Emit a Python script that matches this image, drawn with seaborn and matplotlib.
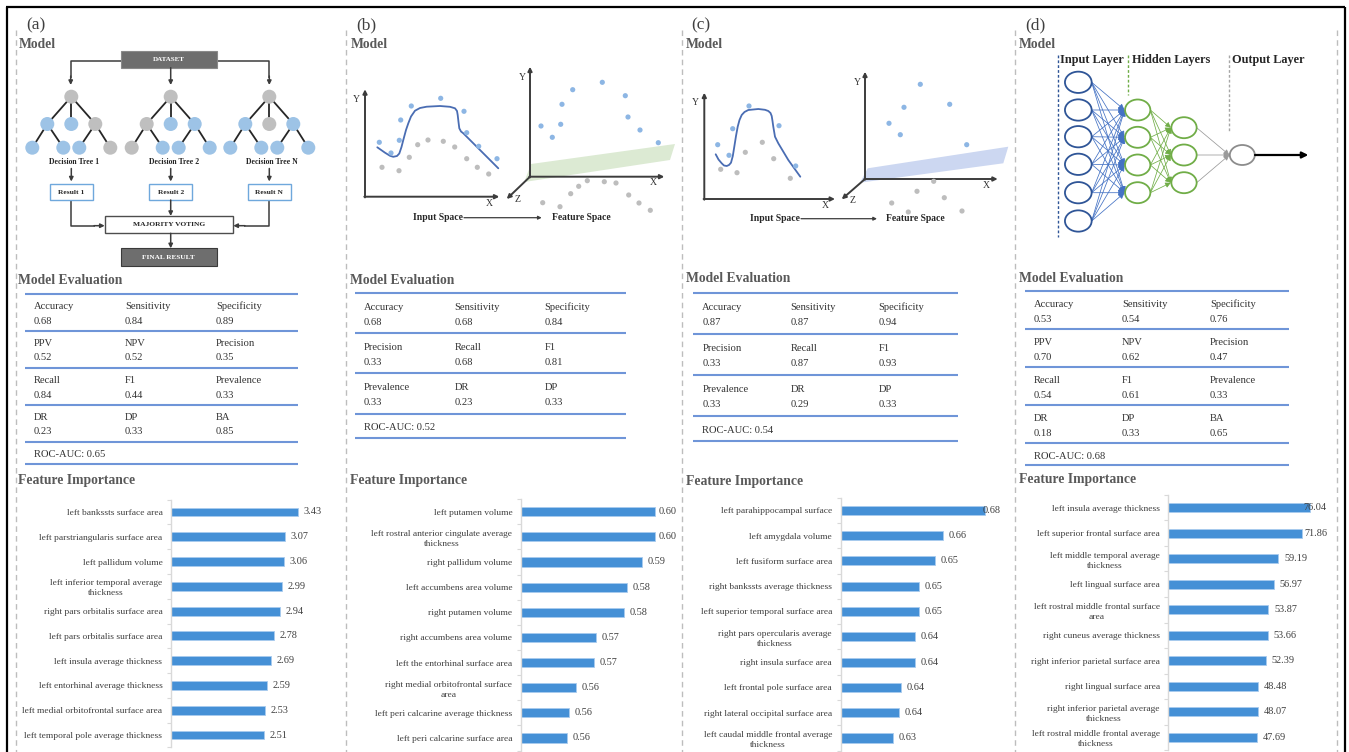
import numpy as np
import pandas as pd
import seaborn as sns
import matplotlib.pyplot as plt
from matplotlib.patches import Circle, Ellipse, Rectangle, Polygon

# ---------------- data ----------------
panel_letters = ["(a)", "(b)", "(c)", "(d)"]

full_metric_names = ["Accuracy", "Sensitivity", "Specificity",
                     "PPV", "NPV", "Precision",
                     "Recall", "F1", "Prevalence",
                     "DR", "DP", "BA"]
short_metric_names = ["Accuracy", "Sensitivity", "Specificity",
                      "Precision", "Recall", "F1",
                      "Prevalence", "DR", "DP"]

rf_metrics = [0.68, 0.84, 0.89, 0.52, 0.52, 0.35, 0.84, 0.44, 0.33, 0.23, 0.33, 0.85]
rf_roc_auc = 0.65
svm_b_metrics = [0.68, 0.68, 0.84, 0.33, 0.68, 0.81, 0.33, 0.23, 0.33]
svm_b_roc_auc = 0.52
svm_c_metrics = [0.87, 0.87, 0.94, 0.33, 0.87, 0.93, 0.33, 0.29, 0.33]
svm_c_roc_auc = 0.54
nn_metrics = [0.53, 0.54, 0.76, 0.70, 0.62, 0.47, 0.54, 0.61, 0.33, 0.18, 0.33, 0.65]
nn_roc_auc = 0.68

rf_features = ["left bankssts surface area",
               "left parstriangularis surface area",
               "left pallidum volume",
               "left inferior temporal average\nthickness",
               "right pars orbitalis surface area",
               "left pars orbitalis surface area",
               "left insula average thickness",
               "left entorhinal average thickness",
               "left medial orbitofrontal surface area",
               "left temporal pole average thickness"]
rf_importance = [3.43, 3.07, 3.06, 2.99, 2.94, 2.78, 2.69, 2.59, 2.53, 2.51]

svm_b_features = ["left putamen volume",
                  "left rostral anterior cingulate average\nthickness",
                  "right pallidum volume",
                  "left accumbens area volume",
                  "right putamen volume",
                  "right accumbens area volume",
                  "left the entorhinal surface area",
                  "right medial orbitofrontal surface\narea",
                  "left peri calcarine average thickness",
                  "left peri calcarine surface area"]
svm_b_importance = [0.596, 0.596, 0.590, 0.583, 0.582, 0.569, 0.568, 0.560, 0.557, 0.556]

svm_c_features = ["left parahippocampal surface",
                  "left amygdala volume",
                  "left fusiform surface area",
                  "right bankssts average thickness",
                  "left superior temporal surface area",
                  "right pars opercularis average\nthickness",
                  "right insula surface area",
                  "left frontal pole surface area",
                  "right lateral occipital surface area",
                  "left caudal middle frontal average\nthickness"]
svm_c_importance = [0.679, 0.658, 0.654, 0.646, 0.646, 0.644, 0.644, 0.637, 0.636, 0.633]

nn_features = ["left insula average thickness",
               "left superior frontal surface area",
               "left middle temporal average\nthickness",
               "left lingual surface area",
               "left rostral middle frontal surface\narea",
               "right cuneus average thickness",
               "right inferior parietal surface area",
               "right lingual surface area",
               "right inferior parietal average\nthickness",
               "left rostral middle frontal average\nthickness"]
nn_importance = [76.04, 71.86, 59.19, 56.97, 53.87, 53.66, 52.39, 48.48, 48.07, 47.69]

# ---------------- schematic geometry (pixel space) ----------------
# random forest: per-tree node colours (root, level 2, level 3)
tree_roots_x = [71.3, 170.7, 269.3]
tree_titles = ["Decision Tree 1", "Decision Tree 2", "Decision Tree N"]
result_titles = ["Result 1", "Result 2", "Result N"]
tree_colours = [("g", "bbg", "bbbg"), ("g", "gbb", "gbbb"), ("g", "bgb", "bbbb")]

# kernel illustrations: sample points and boundary curves
b_in_pos = [(379.3, 142.3), (391, 153), (399.3, 140.3), (400.7, 120), (411.3, 106),
            (440.7, 98.3), (464, 111.3), (466.7, 132.7), (478.7, 146.3), (497, 158.7)]
b_in_neg = [(382, 167.3), (399, 170.7), (409.3, 157.3), (417.7, 144.7), (428, 140),
            (443.3, 141.3), (454.7, 147), (466.7, 158.7), (477.3, 167.3), (488.7, 174)]
b_curve = [(377.3, 147.3), (385, 152.7), (390, 155.8), (393.3, 156.8), (397, 156), (399.3, 153.5),
           (401.5, 147), (403.3, 140), (406, 130), (408.3, 123.3), (411, 116.5), (415, 110.7),
           (420, 108), (426.7, 106.7), (440, 106), (450, 106.8), (455, 108.3), (457, 111),
           (457.7, 115), (458.5, 122), (459.3, 128.3), (461, 131.5), (463.3, 133.3), (473.3, 143.3),
           (486.7, 156.7), (498.3, 168.3)]
b_fs_pos = [(541, 126), (552.3, 137.3), (560.7, 124.3), (562, 104.3), (572.7, 89.7),
            (602.3, 82.3), (625.3, 95.7), (628, 117), (640, 130), (658.3, 142.7)]
b_fs_neg = [(542.7, 202.7), (560, 206.7), (570.7, 193.7), (578.7, 186.3), (587.3, 180.7),
            (604.3, 181.7), (616, 183), (628.7, 195), (639, 203), (650.3, 210.3)]
b_plane = [(531, 164), (675, 144), (670, 160), (524.3, 182)]

c_in_pos = [(717.7, 144.7), (729, 155.3), (732.7, 128.7), (749, 106), (779, 125.7), (795.7, 166)]
c_in_neg = [(720.7, 169.3), (737, 172.7), (745.3, 152.3), (762.3, 142.3), (773.7, 158.7), (790.3, 178.3)]
c_curve = [(715.7, 154.3), (718.5, 159.5), (721.7, 163.3), (724, 165.5), (726.7, 166), (729, 165),
           (731, 162.7), (732.8, 156), (734.3, 146.7), (736, 136), (737.7, 126.7), (739.5, 120),
           (741.7, 115), (744.5, 112), (748.3, 110), (758.3, 109), (765, 109.8), (768.3, 111),
           (770.5, 113), (771.7, 116), (772.5, 121), (773.3, 126.7), (775, 136.7), (778.3, 143.3),
           (788.3, 160), (800.3, 176.7)]
c_fs_pos = [(920.3, 84.3), (889, 123.3), (904, 107.3), (900.3, 134.7), (949.7, 104.3), (966.7, 144.7)]
c_fs_neg = [(933.7, 181.3), (917, 191.3), (944.3, 197.7), (891.7, 203), (908.3, 212), (962, 211)]
c_plane = [(867.7, 168.3), (1008.3, 146.7), (1003.3, 163.3), (860, 182.7)]

# neural network layers: (centre x, centre ys, width, height, edge colour)
nn_layers = [(1078.3, [82.3, 110, 136.7, 164.3, 192.7, 221], 26.7, 21.3, "#2F5597"),
             (1137.7, [110, 137.3, 165, 192.7], 25.3, 21.0, "#70AD47"),
             (1184.0, [127.7, 155, 182.7], 25.3, 21.0, "#70AD47"),
             (1242.3, [155], 25.0, 20.0, "#8C8C8C")]
nn_link_colours = ["#4472C4", "#70AD47", "#9A9A9A"]
nn_head_sizes = [9, 8, 8]

# ---------------- style ----------------
W, H = 1349, 752
sns.set_theme(style="white")
plt.rcParams["font.family"] = ["Liberation Serif", "DejaVu Serif"]

HEAD = "#595959"
TXT = "#333333"
RULE = "#6F95D8"
BAR = "#4590D6"
BLUE_DOT = "#8DB6E4"
GREY_DOT = "#BDBDBD"
AX = "#3C3C3C"

fig = plt.figure(figsize=(W / 100, H / 100), dpi=100)
fig.patch.set_facecolor("white")
ov = fig.add_axes([0, 0, 1, 1], zorder=0)
ov.set_xlim(0, W)
ov.set_ylim(H, 0)
ov.axis("off")


def txt(x, y, s, size, weight="normal", color=TXT, ha="left", va="center", **kw):
    ov.text(x, y, s, fontsize=size, fontweight=weight, color=color, ha=ha, va=va, **kw)


def seg(xs, ys, color=AX, lw=1.0, z=2, **kw):
    ov.plot(xs, ys, color=color, lw=lw, zorder=z, solid_capstyle="butt", **kw)


def arrow(x0, y0, x1, y1, color=AX, lw=1.0, ms=6, z=3):
    ov.annotate("", xy=(x1, y1), xytext=(x0, y0),
                arrowprops=dict(arrowstyle="-|>", color=color, lw=lw, mutation_scale=ms,
                                shrinkA=0, shrinkB=0), zorder=z)


# ---------------- frame and panel separators ----------------
seg([6, 1345], [7, 7], color="black", lw=1.6)
seg([7, 7], [7, 752], color="black", lw=1.6)
seg([1345, 1345], [7, 752], color="black", lw=1.6)
for xd in [16, 346, 682, 1015, 1336.5]:
    ov.plot([xd, xd], [30, 752], color="#BDBDBD", lw=1.0, ls=(0, (4, 3)), zorder=1)

label_x = [26, 356.5, 691.5, 1025]
model_x = [18.5, 350.5, 685.5, 1019]
for lx, mx, lab in zip(label_x, model_x, panel_letters):
    txt(lx, 25, lab, 12.5, color="#404040")
    txt(mx, 45, "Model", 9.8, weight="bold", color=HEAD)

# ---------------- (a) random forest schematic ----------------
DARKBOX = "#6E6E6E"
ov.add_patch(Rectangle((120.7, 50.7), 96, 17, fc=DARKBOX, ec="#8A8A8A", lw=0.8, zorder=3))
txt(168.7, 59.3, "DATASET", 5.0, weight="bold", color="white", ha="center", zorder=4)
seg([120.7, 70.7, 70.7], [61, 61, 78], lw=1.1)
seg([216.7, 269.3, 269.3], [61, 61, 78], lw=1.1)
arrow(70.7, 76, 70.7, 85, lw=1.1, ms=6)
arrow(269.3, 76, 269.3, 85, lw=1.1, ms=6)
arrow(170.7, 67.7, 170.7, 85, lw=1.1, ms=6)

node_col = {"b": "#9DC3E6", "g": "#BFBFBF"}
lvl_y = [96.7, 124.0, 147.7]
lvl2_dx = [-24, 0, 24]
lvl3_dx = [-39, -8, 8, 39]
for rx, title, res, cols in zip(tree_roots_x, tree_titles, result_titles, tree_colours):
    l2 = [(rx + d, lvl_y[1]) for d in lvl2_dx]
    l3 = [(rx + d, lvl_y[2]) for d in lvl3_dx]
    for p in l2:
        seg([rx, p[0]], [lvl_y[0], p[1]], color="#262626", lw=1.3, z=2)
    for a, b in [(0, 0), (0, 1), (2, 2), (2, 3)]:
        seg([l2[a][0], l3[b][0]], [l2[a][1], l3[b][1]], color="#262626", lw=1.3, z=2)
    ov.add_patch(Circle((rx, lvl_y[0]), 7, fc=node_col[cols[0]], ec="none", zorder=3))
    for p, c in zip(l2, cols[1]):
        ov.add_patch(Circle(p, 7, fc=node_col[c], ec="none", zorder=3))
    for p, c in zip(l3, cols[2]):
        ov.add_patch(Circle(p, 7, fc=node_col[c], ec="none", zorder=3))
    txt(rx + 3, 162.5, title, 5.6, weight="bold", color="#262626", ha="center")
    arrow(rx, 168.5, rx, 181.5, lw=1.1, ms=6)
    ov.add_patch(Rectangle((rx - 21.5, 184.3), 43, 15.7, fc="white", ec="#6FA8DC", lw=1.0, zorder=3))
    txt(rx, 192.3, res, 5.4, weight="bold", color="#262626", ha="center", zorder=4)

seg([70.7, 70.7, 95], [200, 225.7, 225.7], lw=1.1)
arrow(94, 225.7, 104.7, 225.7, lw=1.1, ms=6)
seg([269.3, 269.3, 244], [200, 225.7, 225.7], lw=1.1)
arrow(245, 225.7, 233.3, 225.7, lw=1.1, ms=6)
arrow(170.7, 200, 170.7, 216, lw=1.1, ms=6)
ov.add_patch(Rectangle((104.7, 216), 128.6, 17.3, fc="white", ec="#4D4D4D", lw=1.0, zorder=3))
txt(169, 224.8, "MAJORITY VOTING", 5.4, weight="bold", color="#262626", ha="center", zorder=4)
arrow(170.7, 233.3, 170.7, 248.3, lw=1.1, ms=6)
ov.add_patch(Rectangle((120.7, 248.3), 96, 17.7, fc=DARKBOX, ec="#3A3A3A", lw=0.8, zorder=3))
txt(168.7, 257.3, "FINAL RESULT", 5.2, weight="bold", color="white", ha="center", zorder=4)


# ---------------- (b), (c) kernel mapping schematics ----------------
def kernel_panel(in_origin, in_top, in_right, fs_origin, fs_top, fs_right, fs_z,
                 in_pos, in_neg, curve, fs_pos, fs_neg, plane, plane_col,
                 space_y, space_arrow, in_lbl_x, fs_lbl_x):
    ov.add_patch(Polygon(plane, closed=True, fc=plane_col, ec="none", zorder=1.5))
    ox, oy = in_origin
    arrow(ox, oy + 0.7, ox, in_top, lw=1.4, ms=6)
    arrow(ox - 0.7, oy, in_right, oy, lw=1.4, ms=6)
    txt(ox - 8.5, in_top + 10, "Y", 7, color=TXT, ha="center")
    txt(in_right - 10, oy + 6.5, "X", 7, color=TXT, ha="center")
    fx, fy = fs_origin
    arrow(fx, fy + 0.7, fx, fs_top, lw=1.4, ms=6)
    arrow(fx - 0.7, fy, fs_right, fy, lw=1.4, ms=6)
    arrow(fx, fy, fs_z[0], fs_z[1], lw=1.4, ms=6)
    txt(fx - 7.5, fs_top + 11, "Y", 7, color=TXT, ha="center")
    txt(fs_right - 11, fy + 6, "X", 7, color=TXT, ha="center")
    txt(fs_z[0] + 11, fs_z[1] + 1, "Z", 7, color=TXT, ha="center")
    cx, cy = zip(*curve)
    ov.plot(cx, cy, color="#4A6DB3", lw=1.3, zorder=3, solid_joinstyle="round")
    for pts, col in [(in_pos, BLUE_DOT), (in_neg, GREY_DOT), (fs_pos, BLUE_DOT), (fs_neg, GREY_DOT)]:
        px, py = zip(*pts)
        ov.scatter(px, py, s=14, color=col, edgecolors="none", zorder=4)
    txt(in_lbl_x, space_y, "Input Space", 6.9, weight="bold", color="#262626", ha="center")
    arrow(space_arrow[0], space_y, space_arrow[1], space_y, lw=0.9, ms=5)
    txt(fs_lbl_x, space_y, "Feature Space", 6.9, weight="bold", color="#262626", ha="center")


kernel_panel((365, 196.7), 89.3, 499.3, (530, 176.7), 66.7, 664.3, (506.7, 199),
             b_in_pos, b_in_neg, b_curve, b_fs_pos, b_fs_neg, b_plane, "#DCEAD3",
             217.7, (464, 541.7), 437.7, 581)
kernel_panel((704.3, 199), 92.7, 835, (865, 179), 71.7, 997.7, (841.7, 199.3),
             c_in_pos, c_in_neg, c_curve, c_fs_pos, c_fs_neg, c_plane, "#CCD7F1",
             218.7, (801, 877), 775, 915.3)

# ---------------- (d) neural network schematic ----------------
txt(1060, 60, "Input Layer", 8.8, weight="bold", color="#262626")
txt(1131.7, 60, "Hidden Layers", 8.8, weight="bold", color="#262626")
txt(1232.3, 60, "Output Layer", 8.8, weight="bold", color="#262626")
ov.plot([1058.3, 1058.3], [55, 236.7], color="#2F5597", lw=1.0, ls=(0, (2, 1.5)), zorder=1)
ov.plot([1128.3, 1128.3], [55, 95], color="#70AD47", lw=1.0, ls=(0, (2, 1.5)), zorder=1)
ov.plot([1229, 1229], [55, 131.7], color="#A6A6A6", lw=1.0, ls=(0, (2, 1.5)), zorder=1)

for (sx, sys_, sw, sh, _), (tx, tys, tw, th, _), lc, hs in zip(nn_layers[:-1], nn_layers[1:],
                                                             nn_link_colours, nn_head_sizes):
    for sy in sys_:
        for ty in tys:
            arrow(sx + sw / 2, sy, tx - tw / 2 - 0.5, ty, color=lc, lw=0.55, ms=hs, z=2)
for lx, lys, lw_, lh, ec in nn_layers:
    for ly in lys:
        ov.add_patch(Ellipse((lx, ly), lw_, lh, fc="white", ec=ec, lw=1.3, zorder=3))
arrow(1255, 155, 1308.3, 155, color="black", lw=1.6, ms=9)


# ---------------- model evaluation tables ----------------
def metric_table(head_x, head_y, names, values, roc, x0, x1, rules, cols, name_dy, val_dy):
    txt(head_x, head_y, "Model Evaluation", 9.8, weight="bold", color=HEAD)
    for ry in rules:
        seg([x0, x1], [ry, ry], color=RULE, lw=1.5, z=2)
    for k, (n, v) in enumerate(zip(names, values)):
        r, c = divmod(k, 3)
        txt(cols[c], rules[r] + name_dy, n, 7.6, color=TXT)
        txt(cols[c], rules[r] + val_dy, f"{v:.2f}", 7.6, color=TXT)
    txt(cols[0], rules[-2] + name_dy, f"ROC-AUC: {roc:.2f}", 7.6, color=TXT)


metric_table(18.5, 280, full_metric_names, rf_metrics, rf_roc_auc, 25, 298,
             [294, 331, 368, 405, 442, 464], [34, 125, 216], 12.3, 27)
metric_table(350.5, 280.5, short_metric_names, svm_b_metrics, svm_b_roc_auc, 355, 626,
             [293, 333.3, 373.3, 413.7, 437.7], [364, 454.3, 544.7], 14.3, 29.3)
metric_table(685.5, 278.5, short_metric_names, svm_c_metrics, svm_c_roc_auc, 693.3, 958.3,
             [293.3, 334.3, 375, 416, 440.7], [702.3, 790.7, 878.3], 14.3, 29.4)
metric_table(1019, 278, full_metric_names, nn_metrics, nn_roc_auc, 1025, 1289,
             [291, 329, 367, 405, 443, 465], [1034, 1122, 1210], 13.3, 28.3)

# ---------------- feature importance bar charts ----------------
fi_panels = [
    # heading x, heading y, axis x, right edge, first/last bar centre, x-scale start, px per unit
    (18.5, 480.7, 171.0, 330.0, 512.0, 735.0, 0.0, 37.0, rf_features, rf_importance),
    (350.5, 480.7, 521.0, 677.0, 511.7, 738.0, 0.535, 2200.0, svm_b_features, svm_b_importance),
    (685.5, 481.5, 840.7, 1001.0, 510.3, 738.0, 0.607, 2000.0, svm_c_features, svm_c_importance),
    (1019, 480.0, 1168.3, 1327.0, 507.7, 737.3, 0.0, 1.86, nn_features, nn_importance),
]

value_texts = []
for hx, hy, ax0, ax1, c0, c1, xmin, scale, feats, imps in fi_panels:
    txt(hx, hy, "Feature Importance", 9.8, weight="bold", color=HEAD)
    step = (c1 - c0) / (len(feats) - 1)
    top, bot = c0 - step / 2, c1 + step / 2
    ax = fig.add_axes([ax0 / W, 1 - bot / H, (ax1 - ax0) / W, (bot - top) / H], zorder=2)
    ax.patch.set_alpha(0)
    df = pd.DataFrame({"feature": feats, "importance": imps})
    sns.barplot(data=df, x="importance", y="feature", orient="h", ax=ax, color=BAR,
                saturation=1, width=0.36, edgecolor="#A9CBEE", linewidth=0.6)
    ax.set_xlim(xmin, xmin + (ax1 - ax0) / scale)
    ax.set_ylim(len(feats) - 0.5, -0.5)
    ax.set_xlabel("")
    ax.set_ylabel("")
    ax.xaxis.set_visible(False)
    for sp in ["top", "right", "bottom"]:
        ax.spines[sp].set_visible(False)
    ax.spines["left"].set_color("#D9D9D9")
    ax.spines["left"].set_linewidth(1.0)
    ax.set_yticks(np.arange(len(feats) + 1) - 0.5, minor=True)
    ax.tick_params(axis="y", which="major", length=0, pad=6.2, labelsize=6.8, labelcolor="#404040")
    ax.tick_params(axis="y", which="minor", length=3, width=0.8, color="#D9D9D9", left=True)
    for lab in ax.get_yticklabels():
        lab.set_multialignment("center")
        lab.set_linespacing(1.35)
    for i, v in enumerate(imps):
        t = ax.annotate(f"{v:.2f}", xy=(v, i), xytext=(4.0, 0), textcoords="offset points",
                        ha="left", va="center", fontsize=7.4, color="#404040",
                        annotation_clip=False, zorder=5)
        value_texts.append((ax, t))

# keep value labels inside their plot area (labels that would overflow are pulled back)
fig.canvas.draw()
renderer = fig.canvas.get_renderer()
for ax, t in value_texts:
    right = ax.get_window_extent(renderer).x1
    bb = t.get_window_extent(renderer)
    if bb.x1 > right:
        ox, oy = t.xyann
        t.xyann = (ox - (bb.x1 - right) * 72.0 / fig.dpi, oy)

fig.savefig("out.png", dpi=100, facecolor="white")
